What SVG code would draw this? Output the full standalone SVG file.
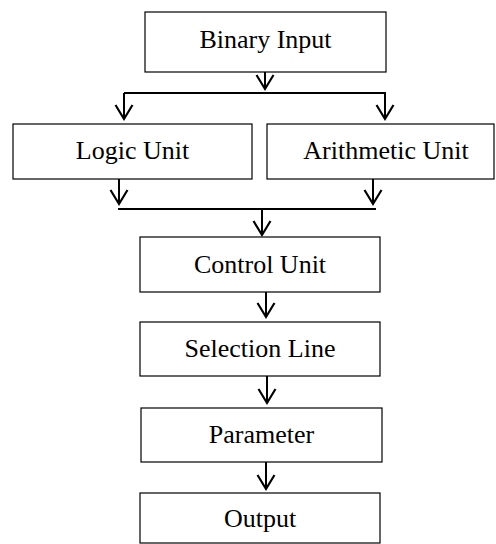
<svg xmlns="http://www.w3.org/2000/svg" width="496" height="544" viewBox="0 0 496 544">
<style>
.box{fill:#fff;stroke:#000;stroke-width:1.2}
.lbl{font-family:"Liberation Serif","Times New Roman",serif;font-size:26px;fill:#000;text-anchor:middle}
.ln{fill:none;stroke:#000;stroke-width:2}
</style>
<defs>
<marker id="v" markerWidth="18" markerHeight="20" refX="15" refY="10" orient="auto" markerUnits="userSpaceOnUse" viewBox="0 0 18 20">
<path d="M1,1.5 L15,10 L1,18.5" fill="none" stroke="#000" stroke-width="2.2"/>
</marker>
</defs>
<rect width="496" height="544" fill="#fff"/>
<g id="connectors">
<line class="ln" x1="265" y1="72" x2="265" y2="89" marker-end="url(#v)"/>
<line class="ln" x1="124" y1="93" x2="386" y2="93"/>
<line class="ln" x1="124" y1="93" x2="124" y2="119" marker-end="url(#v)"/>
<line class="ln" x1="385" y1="93" x2="385" y2="119" marker-end="url(#v)"/>
<line class="ln" x1="119" y1="179" x2="119" y2="204" marker-end="url(#v)"/>
<line class="ln" x1="373" y1="179" x2="373" y2="204" marker-end="url(#v)"/>
<line class="ln" x1="118" y1="209" x2="376" y2="209"/>
<line class="ln" x1="262" y1="209" x2="262" y2="235" marker-end="url(#v)"/>
<line class="ln" x1="266" y1="292" x2="266" y2="317" marker-end="url(#v)"/>
<line class="ln" x1="267" y1="376" x2="267" y2="403" marker-end="url(#v)"/>
<line class="ln" x1="266" y1="462" x2="266" y2="489" marker-end="url(#v)"/>
</g>
<g id="binary-input"><rect class="box" x="145" y="12" width="241" height="60"/><text class="lbl" x="265.5" y="48">Binary Input</text></g>
<g id="logic-unit"><rect class="box" x="13" y="124" width="239" height="55"/><text class="lbl" x="132.5" y="159">Logic Unit</text></g>
<g id="arithmetic-unit"><rect class="box" x="267" y="124" width="227" height="55"/><text class="lbl" x="386" y="159">Arithmetic Unit</text></g>
<g id="control-unit"><rect class="box" x="140" y="237" width="240" height="55"/><text class="lbl" x="260" y="273">Control Unit</text></g>
<g id="selection-line"><rect class="box" x="140" y="322" width="240" height="54"/><text class="lbl" x="260" y="357">Selection Line</text></g>
<g id="parameter"><rect class="box" x="141" y="408" width="241" height="54"/><text class="lbl" x="261.5" y="443">Parameter</text></g>
<g id="output"><rect class="box" x="140" y="493" width="240" height="50"/><text class="lbl" x="260" y="527">Output</text></g>
</svg>
